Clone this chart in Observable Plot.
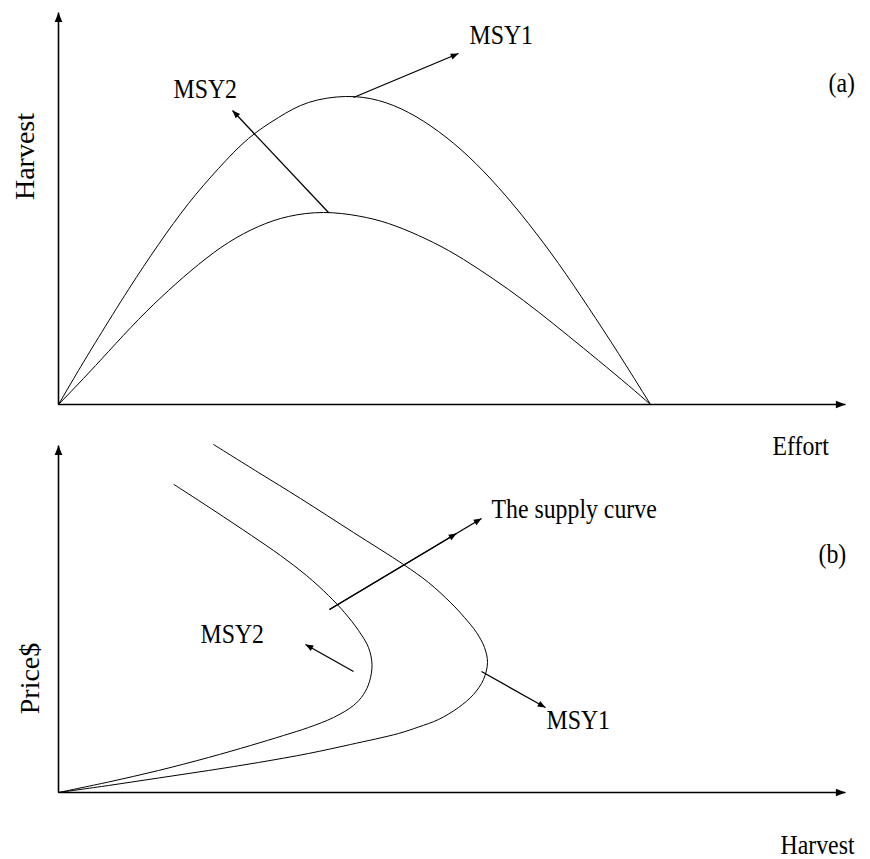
<!DOCTYPE html>
<html><head><meta charset="utf-8">
<script src="https://cdn.jsdelivr.net/npm/d3@7"></script>
<script src="https://cdn.jsdelivr.net/npm/@observablehq/plot@0.6"></script>
<style>body{margin:0;background:#fff} svg{display:block}</style>
</head><body><div id="chart"></div>
<script>
// ---------- Panel (a): Harvest vs Effort ----------
const effortDomain = [0, 787];
const harvestDomainA = [0, 392];
const msy1Effort  = [0, 20, 40, 70, 100, 130, 160, 190, 220, 250, 287, 320, 350, 380, 410, 440, 470, 500, 530, 560, 592];
const msy1Harvest = [0, 34, 67, 115, 160, 201, 236, 266, 287, 302, 308, 304, 292, 273, 248, 217, 181, 141, 97, 51, 0];
const msy2Effort  = [0, 25, 50, 80, 110, 140, 170, 200, 230, 265, 300, 330, 360, 390, 420, 450, 480, 510, 540, 570, 592];
const msy2Harvest = [0, 26, 53, 85, 114, 140, 162, 178, 188, 192, 188.5, 181, 169, 154, 135.5, 115, 92.5, 68.5, 44, 19, 0];
const arrowsAFrom = [[295, 307], [270, 192]];
const arrowsATo   = [[400, 351], [174, 294]];
const labelsA  = ["MSY1", "MSY2", "(a)", "Effort"];
const labelsAX = [411, 115, 770, 714];
const labelsAY = [361, 307, 313, -50];
const yTitleA = {text: "Harvest", x: -25, y: 248};

// ---------- Panel (b): Price vs Harvest ----------
const harvestDomainB = [0, 787];
const priceDomain = [0, 347];
const supply1Harvest = [0, 50, 100, 150, 200, 250, 292, 340, 360, 380, 400, 415, 425, 429, 426, 418, 406, 392, 370, 345, 295, 242, 200, 155];
const supply1Price   = [0, 7, 14.5, 22, 30, 39, 48, 59, 65.5, 73, 85, 98, 113, 130, 145, 160, 175, 190, 210, 228, 260, 294, 320, 348];
const supply2Harvest = [0, 50, 100, 150, 192, 225, 250, 275, 295, 305, 311, 313.5, 310, 300, 286, 270, 248, 222, 193, 155.5, 115.5];
const supply2Price   = [0, 10.5, 22, 35, 47, 57, 65, 75, 87, 98, 111, 128, 145, 162, 180, 197, 217, 237, 257, 282, 308];
const arrowsBFrom = [[271, 183], [271, 183], [295, 121], [423, 121]];
const arrowsBTo   = [[423, 274], [398, 259], [247, 148], [487, 85]];
const labelsB  = ["The supply curve", "(b)", "MSY2", "MSY1", "Harvest"];
const labelsBX = [433, 760, 142, 488, 722];
const labelsBY = [275, 230, 150, 64, -61];
const yTitleB = {text: "Price$", x: -20, y: 114};

const FONT = "Liberation Serif";

function axes(xd, yd) {
  return [
    {x1: xd[0], y1: yd[0], x2: xd[1], y2: yd[0]},
    {x1: xd[0], y1: yd[0], x2: xd[0], y2: yd[1]}
  ];
}
function pts(xs, ys) { return xs.map((x, i) => ({x, y: ys[i]})); }
function arrows(from, to) { return from.map((f, i) => ({x1: f[0], y1: f[1], x2: to[i][0], y2: to[i][1]})); }
function labels(t, xs, ys) { return t.map((text, i) => ({text, x: xs[i], y: ys[i]})); }

function panel(opts) {
  return Plot.plot({
    width: 870, height: opts.height,
    marginLeft: 58, marginRight: 25, marginTop: opts.mt, marginBottom: opts.mb,
    x: {domain: opts.xd, axis: null},
    y: {domain: opts.yd, axis: null},
    style: {background: "white", overflow: "visible"},
    marks: [
      Plot.link(axes(opts.xd, opts.yd), {x1: "x1", y1: "y1", x2: "x2", y2: "y2", stroke: "black", strokeWidth: 1.6, markerEnd: "arrow"}),
      ...opts.curves.map(c => Plot.line(c, {x: "x", y: "y", stroke: "black", strokeWidth: 1, curve: opts.curve})),
      Plot.link(opts.arrows, {x1: "x1", y1: "y1", x2: "x2", y2: "y2", stroke: "black", strokeWidth: 1.3, markerEnd: "arrow"}),
      Plot.text(opts.labels, {x: "x", y: "y", text: "text", textAnchor: "start", lineAnchor: "bottom", fontFamily: FONT, fontSize: 28, fill: "black"}),
      Plot.text([opts.ytitle], {x: "x", y: "y", text: "text", rotate: -90, textAnchor: "middle", lineAnchor: "bottom", fontFamily: FONT, fontSize: 28, fill: "black"})
    ]
  });
}

const svgA = panel({
  height: 430, mt: 12, mb: 26, xd: effortDomain, yd: harvestDomainA, curve: "natural",
  curves: [pts(msy1Effort, msy1Harvest), pts(msy2Effort, msy2Harvest)],
  arrows: arrows(arrowsAFrom, arrowsATo),
  labels: labels(labelsA, labelsAX, labelsAY),
  ytitle: yTitleA
});
const svgB = panel({
  height: 429, mt: 15, mb: 67, xd: harvestDomainB, yd: priceDomain, curve: "catmull-rom",
  curves: [pts(supply1Harvest, supply1Price), pts(supply2Harvest, supply2Price)],
  arrows: arrows(arrowsBFrom, arrowsBTo),
  labels: labels(labelsB, labelsBX, labelsBY),
  ytitle: yTitleB
});
const host = document.getElementById("chart");
host.append(svgA, svgB);

for (const svg of [svgA, svgB]) {
  d3.select(svg).selectAll("marker").attr("overflow", "visible")
    .selectAll("path").attr("d", "M-9,-3.6L0,0L-9,3.6Z").attr("fill", "black").attr("stroke", "none");
  d3.select(svg).selectAll("text").each(function() {
    const tr = this.getAttribute("transform") || "";
    if (tr.includes("rotate")) return;
    const len = this.getComputedTextLength();
    this.setAttribute("textLength", (len * 0.85).toFixed(1));
    this.setAttribute("lengthAdjust", "spacingAndGlyphs");
  });
}
</script>
</body></html>
